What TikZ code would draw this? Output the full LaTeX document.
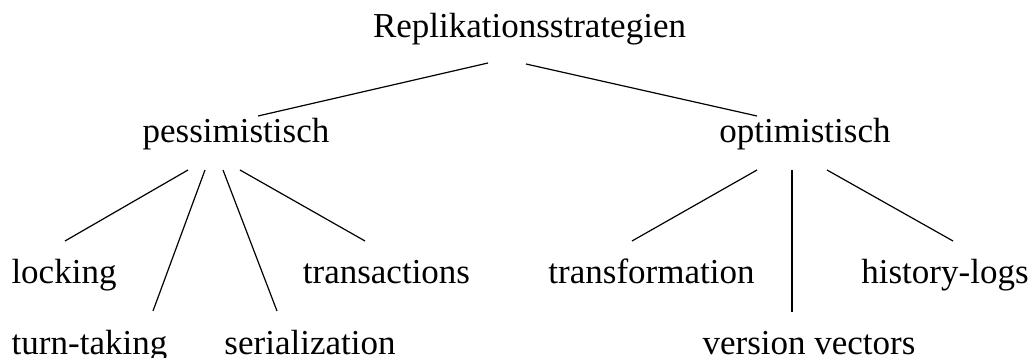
\documentclass[tikz,border=0pt]{standalone}
\usepackage{fontspec}
\setmainfont{Liberation Serif}
\begin{document}
\begin{tikzpicture}[x=1pt,y=1pt,
  lbl/.style={anchor=base,inner sep=0pt,font=\fontsize{35}{42}\selectfont},
  edge/.style={draw=black,line width=1.2pt}]
\useasboundingbox (0,0) rectangle (1030,358);
% tree labels (positioned by baseline)
\node[lbl] (root) at (529.5,320) {Replikationsstrategien};
\node[lbl] (pess) at (236,215) {pessimistisch};
\node[lbl] (opt)  at (805,215) {optimistisch};
\node[lbl] (lock) at (64,74)   {locking};
\node[lbl] (turn) at (89.5,3)  {turn-taking};
\node[lbl] (ser)  at (310,3)   {serialization};
\node[lbl] (trans) at (386.5,74) {transactions};
\node[lbl] (tfm)  at (651.5,74) {transformation};
\node[lbl] (vv)   at (809,3)   {version vectors};
\node[lbl] (hist) at (945,74)  {history-logs};
% first level
\draw[edge] ([shift={(-41.5,-25)}]root.base) -- ([shift={(22,27)}]pess.base);
\draw[edge] ([shift={(-3.5,-26)}]root.base) -- ([shift={(-48,27)}]opt.base);
% pessimistic branch
\draw[edge] ([shift={(-48,-27)}]pess.base) -- ([shift={(1,43)}]lock.base);
\draw[edge] ([shift={(-31,-27)}]pess.base) -- ([shift={(63.5,44)}]turn.base);
\draw[edge] ([shift={(-13,-27)}]pess.base) -- ([shift={(-33,44)}]ser.base);
\draw[edge] ([shift={(4,-27)}]pess.base) -- ([shift={(-21.5,43)}]trans.base);
% optimistic branch
\draw[edge] ([shift={(-48,-27)}]opt.base) -- ([shift={(-19.5,43)}]tfm.base);
\draw[edge] ([shift={(-13,-27)}]opt.base) -- ([shift={(-17,43)}]vv.base);
\draw[edge] ([shift={(22,-27)}]opt.base) -- ([shift={(8,43)}]hist.base);
\end{tikzpicture}
\end{document}
